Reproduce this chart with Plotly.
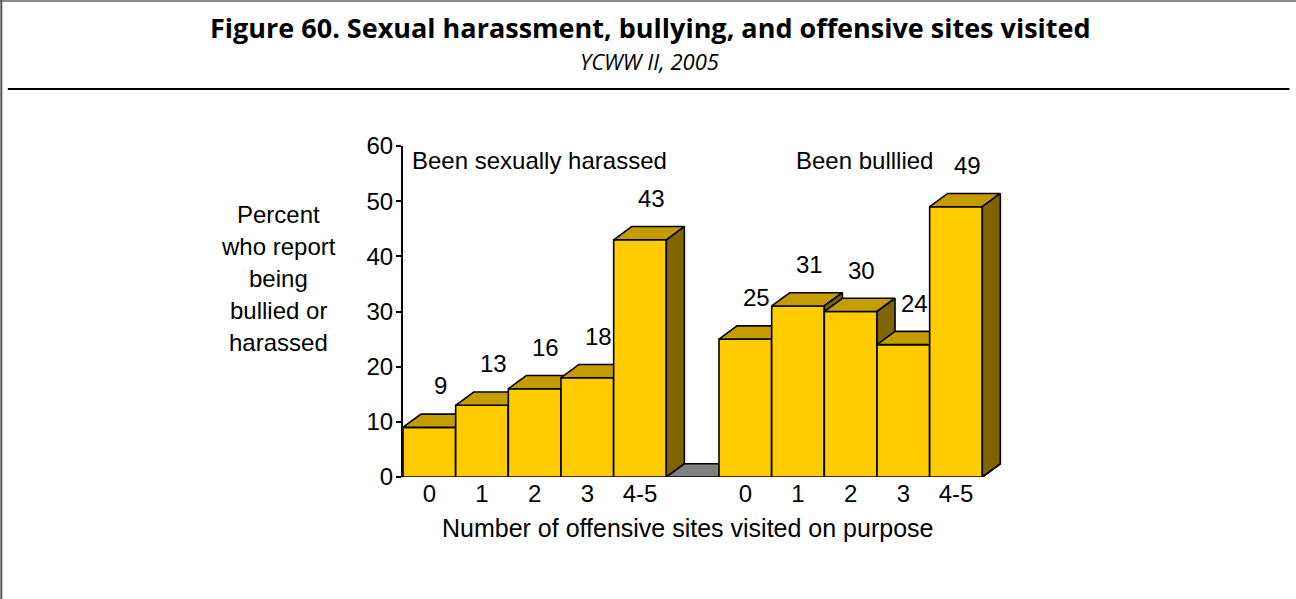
import plotly.graph_objects as go

# ---- data ----
categories = ["0", "1", "2", "3", "4-5"]
harassed = [9, 13, 16, 18, 43]
bullied = [25, 31, 30, 24, 49]
group_labels = ["Been sexually harassed", "Been bulllied"]
y_ticks = [0, 10, 20, 30, 40, 50, 60]
y_title_lines = ["Percent", "who report", "being", "bullied or", "harassed"]
x_title = "Number of offensive sites visited on purpose"
title = "Figure 60. Sexual harassment, bullying, and offensive sites visited"
subtitle = "YCWW II, 2005"

# ---- styling / geometry ----
FRONT = "#FFCC00"
TOP = "#C49C00"
SIDE = "#7F6500"
FLOOR = "#808080"
DX = 0.342   # depth offset in slot units
DY = 2.4     # depth offset in value units
FONT = "Liberation Sans, Arial, sans-serif"
FS = 24

W, H = 1296, 599
L, R = 403, 1296 - 1034.7
T, B = 146, 599 - 477

# slot positions: group 1 at 0..4, gap at 5, group 2 at 6..10
pos1 = list(range(5))
pos2 = [p + 6 for p in range(5)]
positions = pos1 + pos2
values = harassed + bullied
labels = categories + categories

fig = go.Figure()

def poly(xs, ys, color):
    fig.add_trace(go.Scatter(
        x=xs + [xs[0]], y=ys + [ys[0]], mode="lines", fill="toself",
        fillcolor=color, line=dict(color="black", width=1.6),
        hoverinfo="skip", showlegend=False))

# floor
x0f, x1f = min(positions) - 0.5, max(positions) + 0.5
poly([x0f, x1f, x1f + DX, x0f + DX], [0, 0, DY, DY], FLOOR)

# bars, left to right
for p, v in zip(positions, values):
    a, b = p - 0.5, p + 0.5
    poly([a, b, b, a], [0, 0, v, v], FRONT)
    poly([a, b, b + DX, a + DX], [v, v, v + DY, v + DY], TOP)
    poly([b, b + DX, b + DX, b], [0, DY, v + DY, v], SIDE)

pw = W - L - R
ph = H - T - B
def px2paper_x(px):
    return (px - L) / pw
def px2paper_y(py):
    return (H - B - py) / ph

font = dict(family=FONT, size=FS, color="black")
annotations = []
for p, v in zip(positions, values):
    annotations.append(dict(x=p, y=v + 7.5, xref="x", yref="y", text=str(v),
                            showarrow=False, xshift=11, font=font))

annotations.append(dict(x=-0.5, y=57.3, xref="x", yref="y", text=group_labels[0],
                        showarrow=False, xanchor="left", xshift=7, font=font))
annotations.append(dict(x=8.27, y=57.3, xref="x", yref="y", text=group_labels[1],
                        showarrow=False, xanchor="center", font=font))

# y title lines
for i, line in enumerate(y_title_lines):
    annotations.append(dict(x=px2paper_x(279), y=px2paper_y(214 + 32 * i),
                            xref="paper", yref="paper", text=line, showarrow=False,
                            xanchor="center", yanchor="middle", font=font))

# x title
annotations.append(dict(x=px2paper_x(687), y=px2paper_y(528), xref="paper", yref="paper",
                        text=x_title, showarrow=False, xanchor="center", yanchor="middle",
                        font=dict(family=FONT, size=25, color="black")))

# header
annotations.append(dict(x=px2paper_x(650), y=px2paper_y(27), xref="paper", yref="paper",
                        text="<b>" + title + "</b>",
                        showarrow=False, xanchor="center", yanchor="middle",
                        font=dict(family="Open Sans, sans-serif", size=27, color="black")))
annotations.append(dict(x=px2paper_x(649), y=px2paper_y(61), xref="paper", yref="paper",
                        text="<i>" + subtitle + "</i>",
                        showarrow=False, xanchor="center", yanchor="middle",
                        font=dict(family="Open Sans, sans-serif", size=22, color="black")))

shapes = [
    dict(type="line", xref="paper", yref="paper",
         x0=px2paper_x(8), x1=px2paper_x(1289), y0=px2paper_y(89), y1=px2paper_y(89),
         line=dict(color="black", width=2)),
    dict(type="line", xref="paper", yref="paper",
         x0=px2paper_x(0), x1=px2paper_x(1296), y0=px2paper_y(1), y1=px2paper_y(1),
         line=dict(color="#666666", width=1.5)),
    dict(type="line", xref="paper", yref="paper",
         x0=px2paper_x(1.5), x1=px2paper_x(1.5), y0=px2paper_y(0), y1=px2paper_y(599),
         line=dict(color="#555555", width=2)),
]

fig.update_layout(
    width=W, height=H,
    margin=dict(l=L, r=R, t=T, b=B, pad=0),
    paper_bgcolor="white", plot_bgcolor="white",
    showlegend=False,
    annotations=annotations,
    shapes=shapes,
    xaxis=dict(range=[-0.5, 11.5], tickmode="array", tickvals=positions, ticktext=labels,
               showgrid=False, zeroline=False, showline=False, ticks="",
               tickfont=font, fixedrange=True),
    yaxis=dict(range=[0, 60], tickmode="array", tickvals=y_ticks,
               showgrid=False, zeroline=False, showline=True, linecolor="black", linewidth=2,
               ticks="outside", ticklen=5, tickwidth=1.5, tickcolor="black",
               tickfont=font, fixedrange=True),
)
try:
    fig.update_yaxes(ticklabelstandoff=-2)
except Exception:
    pass

fig.write_html("out.html", config={"displayModeBar": False},
               post_script="document.body.style.margin='0';document.body.style.overflow='hidden';")
